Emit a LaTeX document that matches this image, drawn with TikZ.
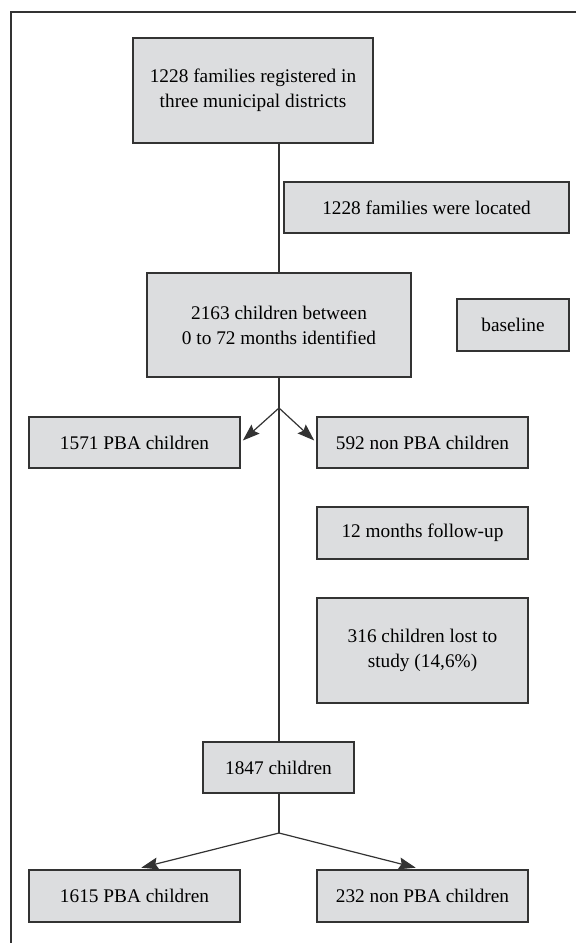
\documentclass[tikz,border=0pt]{standalone}
\usepackage{fontspec}
\setmainfont{Liberation Serif}
\usepackage{xcolor}
\usepackage{tikz}
\usetikzlibrary{calc,arrows.meta}

\definecolor{boxgray}{HTML}{DCDDDF}
\definecolor{edgegray}{HTML}{333333}

\begin{document}
\begin{tikzpicture}[x=1pt,y=-1pt,
    flowbox/.style={draw=edgegray,fill=boxgray,line width=1.2pt,align=center,
        inner sep=0pt,font=\fontsize{19.3}{25}\selectfont},
    link/.style={edgegray,line width=1.2pt},
    arr/.style={link,-{Stealth[length=17pt,width=12pt,inset=2.5pt,fill=edgegray]}}]
    \useasboundingbox (0,0) rectangle (576,943);

    % frame (only top and left edges are visible)
    \draw[edgegray,line width=1.3pt] (576,12) -- (11,12) -- (11,943);

    % baseline part
    \node[flowbox,minimum width=240,minimum height=105] (fam) at (253,90.5)
        {1228 families registered in\\three municipal districts};
    \node[flowbox,minimum width=285,minimum height=51] (located) at (426.5,207.5)
        {1228 families were located};
    \node[flowbox,minimum width=264,minimum height=104] (kids) at (279,325)
        {2163 children between\\0 to 72 months identified};
    \node[flowbox,minimum width=112,minimum height=52] (base) at (513,325)
        {baseline};

    % split at baseline
    \coordinate (split1) at (279,408);
    \node[flowbox,minimum width=211,minimum height=51] (pba1) at (134.5,442.5)
        {1571 PBA children};
    \node[flowbox,minimum width=211,minimum height=51] (npba1) at (422.5,442.5)
        {592 non PBA children};

    % follow-up part
    \node[flowbox,minimum width=211,minimum height=52] (follow) at (422.5,533)
        {12 months follow-up};
    \node[flowbox,minimum width=211,minimum height=105] (lost) at (422.5,650.5)
        {316 children lost to\\study (14,6\%)};
    \node[flowbox,minimum width=151,minimum height=51] (remain) at (278.5,767.5)
        {1847 children};

    % split at follow-up
    \coordinate (split2) at (279,833);
    \node[flowbox,minimum width=211,minimum height=52] (pba2) at (134.5,896)
        {1615 PBA children};
    \node[flowbox,minimum width=211,minimum height=52] (npba2) at (422.5,896)
        {232 non PBA children};

    % connectors
    \draw[link] (kids.north |- fam.south) -- (kids.north);
    \draw[link] (kids.south) -- (split1) -- (split1 |- remain.north);
    \draw[arr,shorten >=3pt] (split1) -- (pba1.east);
    \draw[arr,shorten >=3pt] (split1) -- (npba1.west);
    \draw[link] (remain.south -| split2) -- (split2);
    \draw[arr,shorten >=7pt] (split2) -- (pba2.north);
    \draw[arr,shorten >=7pt] (split2) -- (npba2.north);
\end{tikzpicture}
\end{document}
